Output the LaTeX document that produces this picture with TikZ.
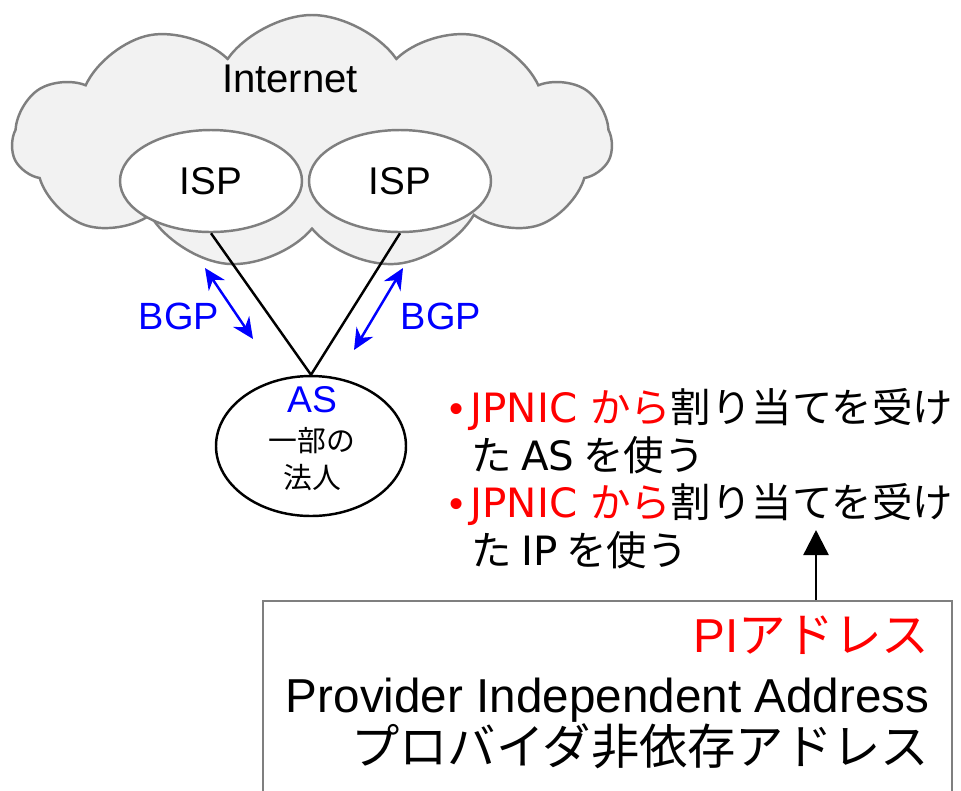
\documentclass[tikz,border=0pt]{standalone}
\usepackage{fontspec}
\setmainfont{Liberation Sans}
\newfontfamily\jfont{Noto Sans CJK JP}
\newfontfamily\vfont{DejaVu Sans}
\usetikzlibrary{shapes.geometric,shapes.symbols,arrows.meta}
\definecolor{cloudgray}{HTML}{F2F2F2}
\definecolor{edgegray}{HTML}{7F7F7F}

\begin{document}
\begin{tikzpicture}[
    ispnode/.style={ellipse, draw=edgegray, line width=0.7pt, fill=white,
        minimum width=1.82cm, minimum height=1.02cm, inner sep=0pt,
        font=\fontsize{11pt}{12pt}\selectfont},
    link/.style={line width=0.7pt},
    bgparrow/.style={blue, line width=0.7pt,
        {Stealth[length=6pt,width=5.5pt]}-{Stealth[length=6pt,width=5.5pt]}},
    bgplabel/.style={text=blue, inner sep=0pt, font=\fontsize{10.8pt}{12pt}\selectfont},
    linetext/.style={anchor=base west, inner sep=0pt,
        font=\jfont\fontsize{11.5pt}{13pt}\selectfont},
    boxtext/.style={anchor=base east, inner sep=0pt,
        font=\fontsize{13.55pt}{15pt}\selectfont}
]
    \useasboundingbox (0,0) rectangle (9.61,-7.90);

    % --- Internet cloud ---
    \node[cloud, cloud puffs=11, cloud puff arc=110, aspect=2.36,
          draw=edgegray, line width=0.7pt, fill=cloudgray,
          minimum width=6.0cm, minimum height=2.54cm, inner sep=0pt]
          (internet) at (3.12,-1.42) {};
    \node[font=\fontsize{11.4pt}{13pt}\selectfont] (inettext) at (2.90,-0.79) {Internet};

    % --- ISPs ---
    \node[ispnode] (ispL) at (2.11,-1.81) {ISP};
    \node[ispnode] (ispR) at (4.00,-1.81) {ISP};

    % --- AS of the company ---
    \node[ellipse, draw, line width=0.7pt, minimum width=1.9cm, minimum height=1.4cm]
          (as) at (3.11,-4.46) {};
    \node[text=blue, font=\fontsize{10.6pt}{12pt}\selectfont] (asname) at (3.12,-4.00) {AS};
    \node[align=center, font=\jfont\fontsize{8.2pt}{10.6pt}\selectfont] (corp) at (3.12,-4.59) {一部の\\法人};

    % --- Links to the ISPs ---
    \draw[link] (ispL.south) -- (as.north);
    \draw[link] (ispR.south) -- (as.north);

    % --- BGP sessions ---
    \coordinate (bgpL1) at (2.05,-2.68);
    \coordinate (bgpL2) at (2.53,-3.39);
    \coordinate (bgpR1) at (4.03,-2.68);
    \coordinate (bgpR2) at (3.54,-3.50);
    \draw[bgparrow] (bgpL1) -- (bgpL2);
    \draw[bgparrow] (bgpR1) -- (bgpR2);
    \node[bgplabel] (bgpLtext) at (1.79,-3.16) {BGP};
    \node[bgplabel] (bgpRtext) at (4.41,-3.16) {BGP};

    % --- Conditions ---
    \node[linetext] (cond1) at (4.49,-4.22) {{\color{red}\rmfamily •\,\vfont JPNIC \jfont から}割り当てを受け};
    \node[linetext] (cond2) at (4.71,-4.70) {た {\vfont AS} を使う};
    \node[linetext] (cond3) at (4.49,-5.17) {{\color{red}\rmfamily •\,\vfont JPNIC \jfont から}割り当てを受け};
    \node[linetext] (cond4) at (4.71,-5.65) {た {\vfont IP} を使う};

    % --- PI address box ---
    \node[draw=edgegray, line width=0.7pt, minimum width=6.89cm, minimum height=2.3cm,
          anchor=north west, inner sep=0pt] (pibox) at (2.62,-6.00) {};
    \coordinate (pitip) at (8.16,-5.30);
    \draw[link, -{Triangle[length=0.25cm,width=0.25cm]}] (pibox.north -| pitip) -- (pitip);
    \node[boxtext, text=red] (pititle) at (9.30,-6.52) {PI{\jfont アドレス}};
    \node[boxtext] (pien) at (9.30,-7.12) {Provider Independent Address};
    \node[boxtext] (pija) at (9.30,-7.64) {\jfont\fontsize{13.75pt}{15pt}\selectfont プロバイダ非依存アドレス};

\end{tikzpicture}
\end{document}
